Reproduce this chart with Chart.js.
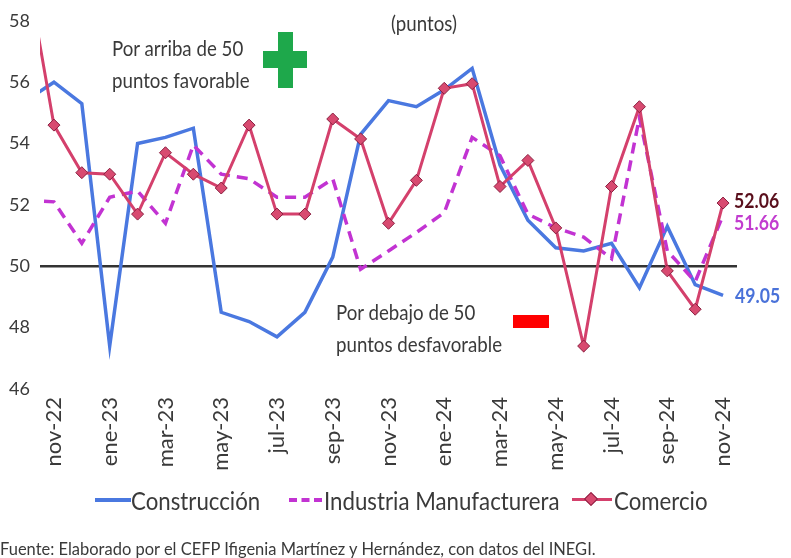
<!DOCTYPE html>
<html>
<head>
<meta charset="utf-8">
<script src="https://cdn.jsdelivr.net/npm/chart.js@4.4.1/dist/chart.umd.min.js"></script>
<style>
  body { margin: 0; background: #fff; }
  #wrap { position: relative; width: 791px; height: 558px; overflow: hidden;
          font-family: 'Lato', sans-serif; color: #3a3a3a; }
  #chart { position: absolute; left: 0; top: 0; }
  .note { position: absolute; font-size: 21px; line-height: 32px; white-space: nowrap;
          transform: scaleX(0.89); transform-origin: left center; }
  .val { position: absolute; font-size: 21px; font-weight: bold; line-height: 24px; white-space: nowrap;
         transform: scaleX(0.84); transform-origin: left center; }
  .item { position: absolute; top: 484px; font-size: 25px; line-height: 32px; white-space: nowrap;
          transform: scaleX(0.89); transform-origin: left center; }
  .swatch { position: absolute; top: 498px; height: 0; }
</style>
</head>
<body>
<div id="wrap">
  <canvas id="chart" width="791" height="558"></canvas>

  <div class="note" style="left:391px; top:7px;">(puntos)</div>
  <div class="note" style="left:112px; top:32px;">Por arriba de 50<br>puntos favorable</div>
  <div style="position:absolute; left:278px; top:32px; width:15px; height:56px; background:#1ea84b;"></div>
  <div style="position:absolute; left:263px; top:51px; width:44px; height:17px; background:#1ea84b;"></div>
  <div class="note" style="left:336px; top:296px;">Por debajo de 50<br>puntos desfavorable</div>
  <div style="position:absolute; left:513px; top:315px; width:36px; height:13px; background:#ff0000;"></div>

  <div class="val" style="left:734px; top:188px; color:#5a0f1c;">52.06</div>
  <div class="val" style="left:734px; top:210px; color:#c23ccf;">51.66</div>
  <div class="val" style="left:735px; top:283px; color:#4a72d9;">49.05</div>

  <div class="swatch" style="left:95px; width:36px; border-top:4px solid #4a78e0;"></div>
  <div class="item" style="left:131px;">Construcción</div>
  <div class="swatch" style="left:289px; width:33px; border-top:4px dashed #c233d2;"></div>
  <div class="item" style="left:324px;">Industria Manufacturera</div>
  <div class="swatch" style="left:572px; width:40px; border-top:3px solid #d4406c;"></div>
  <div style="position:absolute; left:586px; top:494px; width:8px; height:8px; background:#d84a70;
              border:1px solid #8a1f40; transform:rotate(45deg);"></div>
  <div class="item" style="left:614px;">Comercio</div>

  <div class="note" style="left:0px; top:532px; font-size:18px; transform:scaleX(0.915);">Fuente: Elaborado por el CEFP Ifigenia Martínez y Hernández, con datos del INEGI.</div>
</div>

<script>
// months from oct-22; oct-22 sits just left of the visible plot and is clipped
const months = ['oct-22', 'nov-22', 'dic-22', 'ene-23', 'feb-23', 'mar-23', 'abr-23', 'may-23',
    'jun-23', 'jul-23', 'ago-23', 'sep-23', 'oct-23', 'nov-23', 'dic-23', 'ene-24', 'feb-24',
    'mar-24', 'abr-24', 'may-24', 'jun-24', 'jul-24', 'ago-24', 'sep-24', 'oct-24', 'nov-24'];

const tickMonths = ['nov-22', 'ene-23', 'mar-23', 'may-23', 'jul-23', 'sep-23', 'nov-23',
    'ene-24', 'mar-24', 'may-24', 'jul-24', 'sep-24', 'nov-24'];

const construccion = [55.4, 56.0, 55.3, 47.4, 54.0, 54.2, 54.5, 48.5, 48.2, 47.7, 48.5, 50.3, 54.3,
    55.4, 55.2, 55.75, 56.45, 53.3, 51.5, 50.6, 50.5, 50.75, 49.3, 51.3, 49.4, 49.05];

const industria = [52.15, 52.1, 50.75, 52.25, 52.45, 51.4, 53.95, 53.0, 52.85, 52.25, 52.25, 52.85, 49.9,
    50.5, 51.1, 51.75, 54.2, 53.6, 51.7, 51.25, 50.95, 50.25, 54.85, 50.5, 49.5, 51.66];

const comercio = [59.8, 54.6, 53.05, 53.0, 51.7, 53.7, 53.0, 52.55, 54.6, 51.7, 51.7, 54.8, 54.15,
    51.4, 52.8, 55.8, 55.95, 52.6, 53.45, 51.25, 47.4, 52.6, 55.2, 49.85, 48.6, 52.06];

const toPoints = (values) => values.map((v, i) => ({ x: i, y: v }));

const textColor = '#3a3a3a';
const fontFamily = "'Lato', sans-serif";

new Chart(document.getElementById('chart').getContext('2d'), {
    type: 'line',
    data: {
        datasets: [{
            label: 'Construcción',
            data: toPoints(construccion),
            borderColor: '#4a78e0',
            borderWidth: 3.5,
            pointRadius: 0,
            tension: 0,
            clip: 0,
            order: 2
        }, {
            label: 'Industria Manufacturera',
            data: toPoints(industria),
            borderColor: '#c233d2',
            borderWidth: 3.5,
            borderDash: [11, 7],
            pointRadius: 0,
            tension: 0,
            clip: 0,
            order: 1
        }, {
            label: 'Comercio',
            data: toPoints(comercio),
            borderColor: '#d4406c',
            borderWidth: 3,
            pointStyle: 'rectRot',
            pointRadius: 6,
            pointBackgroundColor: '#d84a70',
            pointBorderColor: '#8a1f40',
            pointBorderWidth: 1,
            tension: 0,
            clip: 0,
            order: 0
        }]
    },
    options: {
        responsive: false,
        animation: false,
        layout: {
            padding: { top: 20, right: 54, bottom: 79, left: 0 }
        },
        scales: {
            x: {
                type: 'linear',
                min: 0.5,
                max: 25.5,
                afterBuildTicks: (scale) => {
                    scale.ticks = tickMonths.map(m => ({ value: months.indexOf(m) }));
                },
                afterFit: (scale) => { scale.height = 90; },
                ticks: {
                    autoSkip: false,
                    minRotation: 90,
                    maxRotation: 90,
                    padding: 8,
                    color: textColor,
                    font: { family: fontFamily, size: 22 },
                    callback: (value) => months[value]
                },
                grid: { display: false, drawTicks: false },
                border: { display: false }
            },
            y: {
                min: 46,
                max: 58,
                afterFit: (scale) => { scale.width = 40; },
                ticks: {
                    stepSize: 2,
                    padding: 10,
                    color: textColor,
                    font: { family: fontFamily, size: 18 }
                },
                grid: {
                    drawTicks: false,
                    lineWidth: 2.5,
                    color: (ctx) => ctx.tick && ctx.tick.value === 50 ? '#333333' : 'rgba(0,0,0,0)'
                },
                border: { display: false }
            }
        },
        plugins: {
            legend: { display: false },
            title: { display: false },
            tooltip: { enabled: false }
        }
    }
});
</script>
</body>
</html>
